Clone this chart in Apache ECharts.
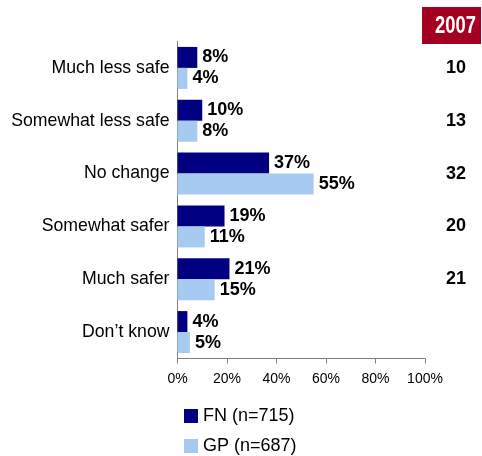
<!DOCTYPE html>
<html>
<head>
<meta charset="utf-8">
<script src="https://cdn.jsdelivr.net/npm/echarts@6/dist/echarts.min.js"></script>
<style>
  html, body { margin: 0; padding: 0; background: #fff; }
  #chart { width: 482px; height: 456px; }
</style>
</head>
<body>
<div id="chart"></div>
<script>
// Perceived change in safety, FN vs GP, with 2007 comparison column
const categories = ['Much less safe', 'Somewhat less safe', 'No change', 'Somewhat safer', 'Much safer', 'Don\u2019t know'];
const fnValues = [8, 10, 37, 19, 21, 4];
const gpValues = [4, 8, 55, 11, 15, 5];
const values2007 = ['10', '13', '32', '20', '21', ''];
const xTicks = [0, 20, 40, 60, 80, 100];
const seriesNames = ['FN (n=715)', 'GP (n=687)'];
const headerText = '2007';

const FONT = 'Liberation Sans, Arial, sans-serif';
const chart = echarts.init(document.getElementById('chart'));

const valueLabel = {
  show: true,
  position: 'right',
  distance: 5,
  formatter: '{c}%',
  color: '#000',
  fontFamily: FONT,
  fontWeight: 'bold',
  fontSize: 18
};

chart.setOption({
  animation: false,
  grid: { left: 177.5, right: 57, top: 41.5, bottom: 97.5, containLabel: false },
  xAxis: {
    type: 'value',
    min: xTicks[0],
    max: xTicks[xTicks.length - 1],
    interval: xTicks[1] - xTicks[0],
    axisLine: { show: true, lineStyle: { color: '#808080', width: 1 } },
    axisTick: { show: true, length: 5, lineStyle: { color: '#808080' } },
    splitLine: { show: false },
    axisLabel: { formatter: '{value}%', color: '#000', fontFamily: FONT, fontSize: 14, margin: 14 }
  },
  yAxis: [
    {
      type: 'category',
      data: categories,
      inverse: true,
      axisLine: { show: true, lineStyle: { color: '#808080', width: 1 } },
      axisTick: { show: false },
      axisLabel: { color: '#000', fontFamily: FONT, fontSize: 17.7, margin: 8 }
    },
    {
      type: 'category',
      data: categories,
      inverse: true,
      position: 'right',
      axisLine: { show: false },
      axisTick: { show: false },
      axisLabel: {
        color: '#000', fontFamily: FONT, fontSize: 18, fontWeight: 'bold',
        margin: 31, align: 'center',
        formatter: (v, i) => values2007[i]
      }
    }
  ],
  legend: {
    orient: 'vertical',
    left: 179,
    top: 402,
    height: 80,
    itemWidth: 14,
    itemHeight: 14,
    itemGap: 12,
    itemTextGap: 5,
    icon: 'rect',
    textStyle: { color: '#000', fontFamily: FONT, fontSize: 18 },
    data: seriesNames
  },
  series: [
    {
      name: seriesNames[0], type: 'bar', data: fnValues,
      barWidth: 21, barGap: '0%',
      itemStyle: { color: '#000080' },
      label: valueLabel
    },
    {
      name: seriesNames[1], type: 'bar', data: gpValues,
      barWidth: 21, barGap: '0%',
      itemStyle: { color: '#A6CAF0' },
      label: valueLabel
    }
  ],
  graphic: [
    { type: 'rect', shape: { x: 422, y: 7, width: 59, height: 37 }, style: { fill: '#A50021' } },
    {
      type: 'text', x: 455.5, y: 26.5, scaleX: 0.8,
      style: {
        text: headerText, fill: '#fff', fontFamily: FONT, fontWeight: 'bold', fontSize: 23,
        align: 'center', verticalAlign: 'middle'
      }
    }
  ]
});
</script>
</body>
</html>
